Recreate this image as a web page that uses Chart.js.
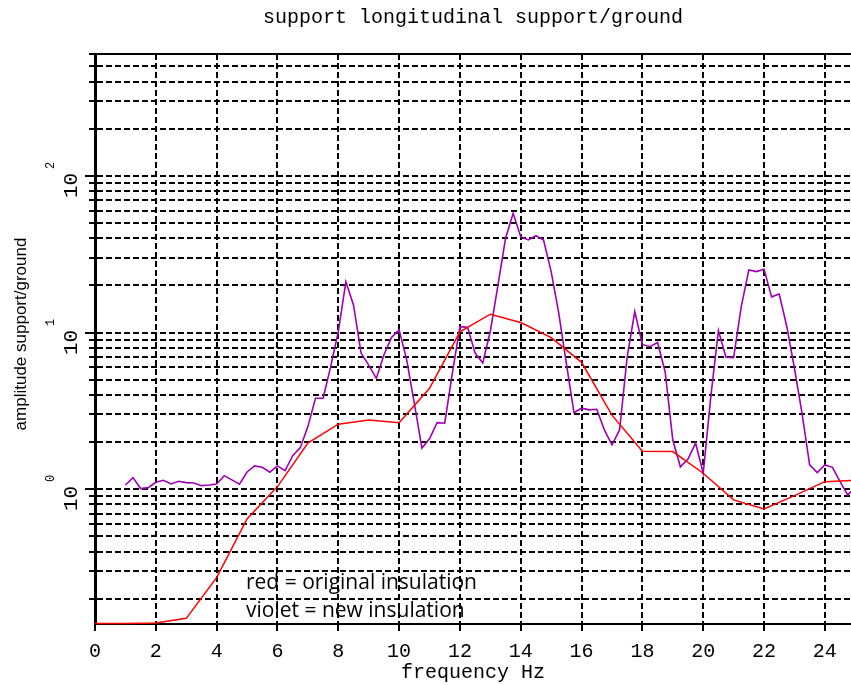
<!DOCTYPE html>
<html>
<head>
<meta charset="utf-8">
<script src="https://cdn.jsdelivr.net/npm/chart.js@4/dist/chart.umd.min.js"></script>
<style>
  html, body { margin: 0; padding: 0; background: #fff; overflow: hidden; }
  #wrap { width: 851px; height: 685px; }
</style>
</head>
<body>
<div id="wrap"><canvas id="c" width="851" height="685"></canvas></div>
<script>
// Texts
const titleText = 'support longitudinal support/ground';
const xTitle = 'frequency Hz';
const yTitle = 'amplitude support/ground';
const noteLines = ['red = original insulation', 'violet = new insulation'];

// Axis ticks / grid
const xTickValues = [0, 2, 4, 6, 8, 10, 12, 14, 16, 18, 20, 22, 24];
const yGridValues = [0.2, 0.3, 0.4, 0.5, 0.6, 0.7, 0.8, 0.9,
                     1, 2, 3, 4, 5, 6, 7, 8, 9,
                     10, 20, 30, 40, 50, 60, 70, 80, 90,
                     100, 200, 300, 400, 500, 600];
const yDecades = [0, 1, 2];   // labelled as 10^n

// Original insulation (red)
const redFreq = [0, 1, 2, 3, 4, 5, 6, 7, 8, 9, 10, 11, 12, 13, 14, 15, 16, 17, 18, 19, 20, 21, 22, 23, 24, 25];
const redAmp  = [0.139, 0.139, 0.14, 0.150, 0.273, 0.646, 1.04, 1.97, 2.60, 2.77, 2.66, 4.41, 10.1,
                 13.1, 11.6, 9.28, 6.46, 2.97, 1.75, 1.74, 1.265, 0.855, 0.749, 0.91, 1.118, 1.14];

// New insulation (violet)
const violetFreq = [1, 1.25, 1.5, 1.75, 2, 2.25, 2.5, 2.75, 3, 3.25, 3.5, 3.75,
                    4, 4.25, 4.5, 4.75, 5, 5.25, 5.5, 5.75, 6, 6.25, 6.5, 6.75,
                    7, 7.25, 7.5, 7.75, 8, 8.25, 8.5, 8.75, 9, 9.25, 9.5, 9.75,
                    10, 10.25, 10.5, 10.75, 11, 11.25, 11.5, 11.75, 12, 12.25, 12.5, 12.75,
                    13, 13.25, 13.5, 13.75, 14, 14.25, 14.5, 14.75, 15, 15.25, 15.5, 15.75,
                    16, 16.25, 16.5, 16.75, 17, 17.25, 17.5, 17.75, 18, 18.25, 18.5, 18.75,
                    19, 19.25, 19.5, 19.75, 20, 20.25, 20.5, 20.75, 21, 21.25, 21.5, 21.75,
                    22, 22.25, 22.5, 22.75, 23, 23.25, 23.5, 23.75, 24, 24.25, 24.5, 24.75, 25];
const violetAmp  = [1.065, 1.186, 1.01, 1.024, 1.108, 1.141, 1.081, 1.125, 1.102, 1.097, 1.054, 1.065,
                    1.081, 1.221, 1.147, 1.076, 1.289, 1.409, 1.381, 1.284, 1.409, 1.314, 1.638, 1.843,
                    2.51, 3.81, 3.81, 6.06, 10.13, 21.1, 15.0, 7.4, 6.2, 5.1, 7.2, 9.3,
                    10.4, 6.7, 3.54, 1.83, 2.1, 2.66, 2.64, 5.5, 10.9, 10.8, 7.4, 6.4,
                    10.2, 20.0, 40.0, 57.7, 40.9, 39.0, 41.5, 39.0, 24.5, 13.3, 6.37, 3.08,
                    3.29, 3.21, 3.24, 2.39, 1.92, 2.39, 7.0, 13.6, 8.4, 8.13, 8.65, 5.6,
                    2.06, 1.39, 1.56, 1.97, 1.265, 3.9, 10.28, 6.95, 6.92, 14.6, 25.1, 24.5,
                    25.4, 16.9, 17.6, 10.9, 5.92, 3.05, 1.43, 1.276, 1.43, 1.38, 1.118, 0.92, 1.03];

const xMin = 0, xMax = 24.86;
const yMin = 0.138, yMax = 600;

const MONO = '"Liberation Mono", "Courier New", monospace';

// Extra decorations: top frame, rotated decade labels, y title, notes
const decor = {
  id: 'decor',
  afterDraw(chart) {
    const { ctx, chartArea: a, scales: { y } } = chart;
    ctx.save();
    ctx.strokeStyle = '#000';
    ctx.fillStyle = '#000';

    // solid top frame
    ctx.lineWidth = 2;
    ctx.beginPath();
    ctx.moveTo(a.left, a.top);
    ctx.lineTo(a.right, a.top);
    ctx.stroke();

    // decade labels: 10 with exponent, both turned upright
    yDecades.forEach(n => {
      const py = Math.round(y.getPixelForValue(Math.pow(10, n)));
      ctx.lineWidth = 2;
      ctx.beginPath();
      ctx.moveTo(a.left - 10, py);
      ctx.lineTo(a.left, py);
      ctx.stroke();

      ctx.save();
      ctx.translate(71, py + 22);
      ctx.rotate(-Math.PI / 2);
      ctx.font = '21px ' + MONO;
      ctx.textAlign = 'left';
      ctx.textBaseline = 'middle';
      ctx.fillText('10', 0, 0);
      ctx.restore();

      ctx.save();
      ctx.translate(51, py - 10.5);
      ctx.rotate(-Math.PI / 2);
      ctx.font = '12px ' + MONO;
      ctx.textAlign = 'center';
      ctx.textBaseline = 'middle';
      ctx.fillText(String(n), 0, 0);
      ctx.restore();
    });

    // y axis title, narrow
    ctx.save();
    ctx.translate(21, 334);
    ctx.rotate(-Math.PI / 2);
    ctx.font = '17px "Liberation Sans", Arial, sans-serif';
    ctx.textAlign = 'center';
    ctx.textBaseline = 'middle';
    ctx.fillText(yTitle, 0, 0, 193);
    ctx.restore();

    // notes inside the plot
    ctx.font = '21px "Open Sans", sans-serif';
    ctx.textAlign = 'left';
    ctx.textBaseline = 'alphabetic';
    ctx.fillText(noteLines[0], 246, 589);
    ctx.fillText(noteLines[1], 246, 617);

    ctx.restore();
  }
};

new Chart(document.getElementById('c'), {
  type: 'line',
  data: {
    datasets: [
      {
        label: 'original insulation',
        data: redFreq.map((f, i) => ({ x: f, y: redAmp[i] })),
        borderColor: '#ff0000',
        borderWidth: 1.5,
        pointRadius: 0,
        tension: 0,
        clip: { left: 0, right: 0, top: 3, bottom: 3 }
      },
      {
        label: 'new insulation',
        data: violetFreq.map((f, i) => ({ x: f, y: violetAmp[i] })),
        borderColor: '#a000b4',
        borderWidth: 1.6,
        pointRadius: 0,
        tension: 0,
        clip: { left: 0, right: 0, top: 3, bottom: 3 }
      }
    ]
  },
  options: {
    responsive: false,
    animation: false,
    events: [],
    layout: { padding: 0 },
    plugins: {
      legend: { display: false },
      tooltip: { enabled: false },
      title: {
        display: true,
        text: titleText,
        fullSize: false,
        color: '#000',
        font: { family: MONO, size: 20, weight: 'normal' },
        padding: { top: 6, bottom: 24 }
      }
    },
    scales: {
      x: {
        type: 'linear',
        position: 'bottom',
        min: xMin,
        max: xMax,
        afterBuildTicks: s => { s.ticks = xTickValues.map(v => ({ value: v })); },
        afterFit: s => { s.height = 61; },
        ticks: {
          color: '#000',
          font: { family: MONO, size: 20 },
          padding: 9,
          maxRotation: 0,
          autoSkip: false,
          callback: v => String(v)
        },
        grid: {
          color: '#000',
          lineWidth: 2,
          tickLength: 7,
          tickColor: '#000',
          tickWidth: 2,
          tickBorderDash: []
        },
        border: { display: true, color: '#000', width: 2, dash: [6, 3] },
        title: {
          display: true,
          text: xTitle,
          color: '#000',
          font: { family: MONO, size: 20 },
          padding: { top: 0, bottom: 0 }
        }
      },
      y: {
        type: 'logarithmic',
        position: 'left',
        min: yMin,
        max: yMax,
        afterBuildTicks: s => { s.ticks = yGridValues.map(v => ({ value: v })); },
        afterFit: s => { s.width = 95; },
        ticks: { display: false },
        grid: {
          color: '#000',
          lineWidth: 2,
          tickLength: 6,
          tickColor: '#000',
          tickWidth: 2,
          tickBorderDash: []
        },
        border: { display: true, color: '#000', width: 3, dash: [6, 3] }
      }
    }
  },
  plugins: [decor]
});
</script>
</body>
</html>
